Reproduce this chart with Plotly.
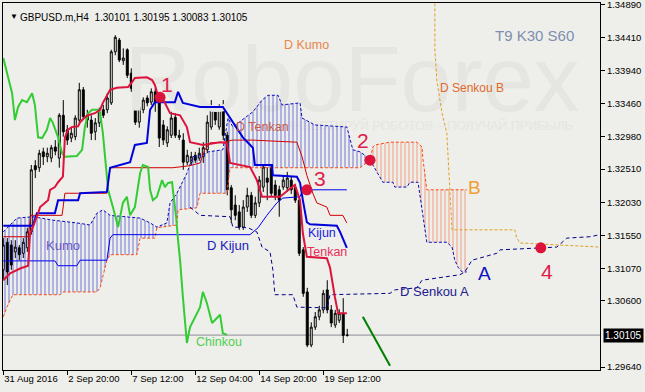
import plotly.graph_objects as go

# ---------------- data ----------------
tick_idx = [0, 16, 32, 48, 64, 80]
tick_text = ["31 Aug 2016", "2 Sep 20:00", "7 Sep 12:00", "12 Sep 04:00", "14 Sep 20:00", "19 Sep 12:00"]
price_ticks = [1.34890, 1.34410, 1.33940, 1.33460, 1.32980, 1.32510, 1.32030,
               1.31550, 1.31070, 1.30600, 1.29640]

opens = [1.3105, 1.3145, 1.3141, 1.3131, 1.3137, 1.3129, 1.3137, 1.3160, 1.3256, 1.3253,
         1.3276, 1.3269, 1.3267, 1.3283, 1.3267, 1.3329, 1.3308, 1.3296, 1.3298, 1.3322,
         1.3366, 1.3329, 1.3322, 1.3305, 1.3318, 1.3337, 1.3337, 1.3347, 1.3421, 1.3438,
         1.3408, 1.3424, 1.3390, 1.3373, 1.3319, 1.3337, 1.3354, 1.3348, 1.3363, 1.3348,
         1.3315, 1.3289, 1.3300, 1.3326, 1.3297, 1.3293, 1.3261, 1.3261, 1.3271, 1.3267,
         1.3269, 1.3279, 1.3312, 1.3337, 1.3312, 1.3337, 1.3300, 1.3224, 1.3199, 1.3189,
         1.3167, 1.3196, 1.3213, 1.3184, 1.3202, 1.3225, 1.3238, 1.3254, 1.3228, 1.3221,
         1.3225, 1.3224, 1.3235, 1.3224, 1.3206, 1.3134, 1.3073, 1.2996, 1.3022, 1.3037,
         1.3047, 1.3076, 1.3047, 1.3025, 1.3032, 1.3042, 1.30101]
highs = [1.3151, 1.3151, 1.3148, 1.3148, 1.3141, 1.3151, 1.3166, 1.3257, 1.3264, 1.3279,
         1.3282, 1.3282, 1.3286, 1.3293, 1.3332, 1.3351, 1.3315, 1.3311, 1.3329, 1.3376,
         1.3370, 1.3337, 1.3329, 1.3325, 1.3340, 1.3344, 1.3361, 1.3424, 1.3445, 1.3441,
         1.3426, 1.3426, 1.3397, 1.3380, 1.3345, 1.3355, 1.3358, 1.3368, 1.3368, 1.3354,
         1.3322, 1.3313, 1.3334, 1.3332, 1.3308, 1.3303, 1.3279, 1.3276, 1.3276, 1.3282,
         1.3290, 1.3329, 1.3351, 1.3342, 1.3345, 1.3351, 1.3305, 1.3228, 1.3213, 1.3199,
         1.3206, 1.3224, 1.3218, 1.3211, 1.3241, 1.3257, 1.3254, 1.3257, 1.3235, 1.3227,
         1.3241, 1.3247, 1.3241, 1.3229, 1.3212, 1.3138, 1.3079, 1.3029, 1.3044, 1.3053,
         1.3076, 1.3090, 1.3054, 1.3047, 1.3048, 1.3064, 1.30195]
lows = [1.3090, 1.3083, 1.3105, 1.3122, 1.3119, 1.3122, 1.3131, 1.3156, 1.3238, 1.3247,
        1.3257, 1.3261, 1.3261, 1.3271, 1.3253, 1.3298, 1.3286, 1.3290, 1.3293, 1.3315,
        1.3322, 1.3311, 1.3293, 1.3293, 1.3312, 1.3325, 1.3332, 1.3344, 1.3416, 1.3406,
        1.3402, 1.3383, 1.3363, 1.3315, 1.3311, 1.3332, 1.3342, 1.3344, 1.3334, 1.3283,
        1.3286, 1.3283, 1.3296, 1.3296, 1.3293, 1.3250, 1.3257, 1.3257, 1.3260, 1.3263,
        1.3260, 1.3274, 1.3308, 1.3315, 1.3308, 1.3293, 1.3213, 1.3173, 1.3177, 1.3163,
        1.3163, 1.3189, 1.3180, 1.3180, 1.3196, 1.3218, 1.3206, 1.3211, 1.3206, 1.3182,
        1.3221, 1.3218, 1.3215, 1.3202, 1.3125, 1.3066, 1.2993, 1.2993, 1.3018, 1.3032,
        1.3042, 1.3042, 1.3022, 1.3021, 1.3028, 1.2999, 1.30083]
closes = [1.3141, 1.3102, 1.3112, 1.3138, 1.3127, 1.3145, 1.3160, 1.3250, 1.3250, 1.3274,
          1.3269, 1.3274, 1.3282, 1.3277, 1.3329, 1.3305, 1.3293, 1.3303, 1.3325, 1.3366,
          1.3327, 1.3322, 1.3303, 1.3318, 1.3334, 1.3329, 1.3354, 1.3421, 1.3442, 1.3409,
          1.3412, 1.3387, 1.3368, 1.3319, 1.3340, 1.3351, 1.3347, 1.3363, 1.3348, 1.3296,
          1.3293, 1.3308, 1.3325, 1.3300, 1.3300, 1.3261, 1.3271, 1.3269, 1.3264, 1.3274,
          1.3282, 1.3319, 1.3340, 1.3322, 1.3340, 1.3300, 1.3221, 1.3192, 1.3184, 1.3167,
          1.3196, 1.3213, 1.3184, 1.3202, 1.3235, 1.3254, 1.3232, 1.3216, 1.3213, 1.3206,
          1.3235, 1.3238, 1.3221, 1.3206, 1.3129, 1.3071, 1.2996, 1.3022, 1.3037, 1.3047,
          1.3071, 1.3047, 1.3028, 1.3042, 1.3042, 1.3010, 1.30105]

tenkan_x = [0, 1.7, 4.2, 6.2, 6.7, 7.4, 8.7, 9.2, 11.2, 11.7, 12.9, 13.7, 14.9, 15.4, 16.2,
            17.2, 18.7, 19.2, 20.4, 21.2, 22.9, 24.2, 24.9, 26.7, 28.4, 31.2, 32.2, 32.9,
            35.9, 37.2, 37.9, 38.4, 39.2, 39.7, 41.7, 44.2, 45.9, 46.7, 49.9, 54.2, 55.9,
            56.7, 61.7, 63.4, 64.7, 69.2, 72.2, 72.9, 74.2, 74.9, 75.9, 80.9, 81.7, 82.4,
            82.9, 83.4, 83.7, 85.9]
tenkan_y = [1.3090, 1.3100, 1.3107, 1.3111, 1.3158, 1.3167, 1.3187, 1.3196, 1.3206, 1.3221,
            1.3225, 1.3232, 1.3240, 1.3297, 1.3308, 1.3312, 1.3313, 1.3319, 1.3326, 1.3329,
            1.3332, 1.3337, 1.3347, 1.3366, 1.3369, 1.3370, 1.3377, 1.3383, 1.3384, 1.3380,
            1.3373, 1.3363, 1.3358, 1.3355, 1.3332, 1.3329, 1.3312, 1.3290, 1.3286, 1.3290,
            1.3289, 1.3260, 1.3254, 1.3235, 1.3211, 1.3211, 1.3225, 1.3228, 1.3206, 1.3158,
            1.3124, 1.3122, 1.3108, 1.3080, 1.3066, 1.3051, 1.3042, 1.3042]

kijun_x = [0, 7.4, 8.4, 12.9, 13.7, 18.7, 19.2, 25.9, 26.7, 31.7, 32.9, 35.9, 36.7, 37.9,
           42.9, 43.7, 44.9, 49.2, 54.9, 56.7, 59.9, 62.4, 62.9, 67.2, 67.4, 73.4, 74.2,
           74.9, 75.9, 76.7, 83.4, 84.2, 85.4, 85.9]
kijun_y = [1.3169, 1.3169, 1.3187, 1.3187, 1.3206, 1.3206, 1.3216, 1.3218, 1.3253, 1.3261,
           1.3286, 1.3289, 1.3337, 1.3348, 1.3348, 1.3363, 1.3347, 1.3341, 1.3341, 1.3325,
           1.3297, 1.3282, 1.3257, 1.3257, 1.3242, 1.3240, 1.3231, 1.3206, 1.3174, 1.3171,
           1.3169, 1.3160, 1.3144, 1.3137]

chinkou_x = [0, 1.2, 2.2, 2.9, 3.7, 4.7, 5.9, 7.2, 7.9, 8.7, 9.7, 10.9, 11.7, 12.4, 13.7,
             14.7, 15.4, 18.4, 19.7, 20.4, 21.2, 22.2, 23.7, 24.2, 24.9, 25.9, 26.2, 27.4,
             28.7, 29.9, 30.9, 31.7, 32.9, 34.2, 34.9, 36.2, 36.7, 37.4, 38.4, 39.7, 40.4,
             41.2, 42.2, 42.4, 43.2, 43.7, 44.2, 44.9, 45.9, 46.7, 49.2, 49.9, 50.9, 52.2,
             54.2, 54.9, 55.9]
chinkou_y = [1.3412, 1.3383, 1.3361, 1.3322, 1.3341, 1.3351, 1.3348, 1.3361, 1.3344, 1.3297,
             1.3296, 1.3308, 1.3325, 1.3318, 1.3297, 1.3274, 1.3269, 1.3270, 1.3279, 1.3312,
             1.3332, 1.3337, 1.3337, 1.3332, 1.3303, 1.3240, 1.3221, 1.3196, 1.3167, 1.3202,
             1.3211, 1.3184, 1.3196, 1.3245, 1.3257, 1.3254, 1.3221, 1.3206, 1.3211, 1.3235,
             1.3225, 1.3231, 1.3232, 1.3221, 1.3182, 1.3148, 1.3119, 1.3066, 1.2999, 1.3022,
             1.3051, 1.3073, 1.3057, 1.3028, 1.3040, 1.3013, 1.3011]

d_tenkan_x = [0, 6.2, 6.9, 14.7, 15.4, 25.9, 26.7, 42.4, 46.7, 49.2, 50.4, 51.7, 55.4, 57.2,
              62.4, 73.4, 74.7, 75.9, 77.4, 78.4, 80.9, 81.7, 84.9, 85.9]
d_tenkan_y = [1.3153, 1.3153, 1.3184, 1.3184, 1.3216, 1.3216, 1.3253, 1.3253, 1.3256, 1.3260,
              1.3279, 1.3289, 1.3290, 1.3293, 1.3293, 1.3290, 1.3269, 1.3242, 1.3216, 1.3202,
              1.3196, 1.3184, 1.3184, 1.3173]

d_kijun_x = [0, 12.9, 13.7, 18.4, 19.2, 25.9, 26.7, 27.4, 61.7, 63.7, 65.9, 68.4, 69.9, 74.2,
             74.9, 85.9]
d_kijun_y = [1.3118, 1.3118, 1.3111, 1.3111, 1.3119, 1.3119, 1.3151, 1.3156, 1.3156, 1.3166,
             1.3184, 1.3202, 1.3209, 1.3211, 1.3221, 1.3221]

senkou_a_x = [0, 2.4, 3.4, 7.4, 12.4, 18.4, 21.7, 23.4, 24.9, 26.7, 29.9, 34.2, 36.7, 38.4,
              40.9, 41.7, 43.4, 45.9, 47.4, 49.9, 51.2, 54.9, 56.2, 57.4, 62.4, 64.7, 66.2,
              68.7, 69.7, 74.2, 74.7, 76.7, 77.9, 85.9, 86.7, 87.4, 89.2, 90.4, 91.7, 93.4,
              94.2, 94.9, 97.4, 97.9, 100.9, 101.7, 103.7, 104.2, 105.4, 105.9, 110.9,
              112.2, 112.9, 113.7, 114.7, 115.9]
senkou_a_y = [1.3160, 1.3174, 1.3180, 1.3182, 1.3177, 1.3173, 1.3170, 1.3187, 1.3192, 1.3184,
              1.3182, 1.3180, 1.3173, 1.3167, 1.3173, 1.3202, 1.3216, 1.3245, 1.3269, 1.3271,
              1.3276, 1.3279, 1.3325, 1.3312, 1.3334, 1.3351, 1.3358, 1.3358, 1.3344, 1.3347,
              1.3325, 1.3318, 1.3315, 1.3312, 1.3293, 1.3279, 1.3276, 1.3271, 1.3264, 1.3247,
              1.3238, 1.3232, 1.3232, 1.3225, 1.3225, 1.3232, 1.3232, 1.3211, 1.3167, 1.3145,
              1.3145, 1.3138, 1.3119, 1.3109, 1.3102, 1.3102]

senkou_b_x = [0, 0.9, 2.4, 14.2, 14.9, 23.4, 24.2, 25.4, 25.9, 26.7, 33.4, 34.2, 37.9, 38.4,
              43.4, 43.7, 48.4, 49.2, 55.9, 56.7, 89.2, 91.7, 92.4, 92.9, 96.7, 103.4,
              104.7, 104.9, 105.9, 115.9]
senkou_b_y = [1.3037, 1.3051, 1.3069, 1.3069, 1.3073, 1.3073, 1.3079, 1.3105, 1.3119, 1.3127,
              1.3127, 1.3151, 1.3151, 1.3166, 1.3170, 1.3192, 1.3195, 1.3216, 1.3216, 1.3253,
              1.3253, 1.3264, 1.3283, 1.3286, 1.3290, 1.3290, 1.3283, 1.3267, 1.3221, 1.3221]
kumo_cross_x = 91.7

d_senkou_a_x = [46.7, 49.2, 56.7, 57.4, 61.2, 63.4, 64.7, 66.7, 67.4, 67.9, 72.4, 73.4, 80.9,
                81.7, 96.7, 97.9, 103.4, 104.7, 114.2, 115.4, 117.2, 123.4, 124.2, 134.2,
                138.4, 140.9, 146.7, 149.2]
d_senkou_a_y = [1.3196, 1.3184, 1.3182, 1.3167, 1.3166, 1.3160, 1.3138, 1.3131, 1.3105, 1.3069,
                1.3069, 1.3051, 1.3050, 1.3069, 1.3071, 1.3076, 1.3079, 1.3090, 1.3098, 1.3102,
                1.3119, 1.3129, 1.3134, 1.3137, 1.3138, 1.3151, 1.3153, 1.3156]

d_senkou_b_x = [107.9, 107.9, 108.4, 109.2, 109.7, 110.9, 111.7, 112.2, 127.9, 128.4, 129.2, 149.2]
d_senkou_b_y = [1.3520, 1.3426, 1.3380, 1.3351, 1.3332, 1.3303, 1.3206, 1.3163, 1.3163, 1.3151,
                1.3144, 1.3138]

trend_x = [89.9, 96.7]
trend_y = [1.3037, 1.2966]

signal_x = [39.2, 91.7, 75.9, 134.4]
signal_y = [1.3355, 1.3264, 1.3221, 1.3137]
signal_lbl = ["1", "2", "3", "4"]
signal_lbl_x = [40.9, 89.9, 79.2, 135.9]
signal_lbl_y = [1.3374, 1.3292, 1.3238, 1.3102]

# text labels: (text, bar index, price, colour, size)
text_labels = [
    ("D Kumo", 75.9, 1.3431, "#E8874A", 12.5),
    ("D Senkou B", 117.2, 1.3368, "#E06A2A", 12),
    ("T9 K30 S60", 132.7, 1.3444, "#7F8FAF", 15),
    ("D Tenkan", 64.9, 1.3312, "#C85A4A", 12.5),
    ("Kijun", 79.7, 1.3158, "#2020E0", 12.5),
    ("Tenkan", 80.9, 1.3131, "#E8305A", 12.5),
    ("D Kijun", 56.2, 1.3140, "#2020C0", 13),
    ("Kumo", 14.9, 1.3140, "#6A5AC8", 13),
    ("D Senkou A", 107.9, 1.3073, "#202090", 13),
    ("Chinkou", 53.9, 1.3000, "#50D050", 12.5),
    ("A", 120.2, 1.3100, "#1010C0", 19),
    ("B", 117.9, 1.3224, "#F0A030", 19),
]

symbol_title = "GBPUSD.m,H4\u00a0\u00a01.30101 1.30195 1.30083 1.30105"

# ---------------- style ----------------
BG = "#EEEEEA"
FONT = "Liberation Sans"
Y_MIN, Y_MAX = 1.29599, 1.34917
X_MIN, X_MAX = -0.075, 149.2

fig = go.Figure()

# watermark (under everything)
fig.add_trace(go.Scatter(x=[87.2], y=[1.3368], mode="text", text=["RoboForex"],
                         textfont=dict(family=FONT, size=92, color="#E5E5E1"),
                         hoverinfo="skip", showlegend=False))
fig.add_trace(go.Scatter(x=[142.4], y=[1.3312], mode="text",
                         text=["ИНВЕСТИРУЙ РОБОТОВ – ПОЛУЧАЙ ПРИБЫЛЬ"],
                         textposition="middle left",
                         textfont=dict(family=FONT, size=12.5, color="#E5E5E1"),
                         hoverinfo="skip", showlegend=False))

# kumo hatch
ka = senkou_a_x.index(kumo_cross_x)
kb = senkou_b_x.index(kumo_cross_x)
hatch = [
    (senkou_b_x[:kb + 1], senkou_b_y[:kb + 1], senkou_a_x[:ka + 1], senkou_a_y[:ka + 1], "#1C28C8"),
    (senkou_b_x[kb:], senkou_b_y[kb:], senkou_a_x[ka:], senkou_a_y[ka:], "#F26A3A"),
]
for bx, by, ax, ay, col in hatch:
    fig.add_trace(go.Scatter(x=bx, y=by, mode="lines", line=dict(width=0, color=col),
                             hoverinfo="skip", showlegend=False))
    fig.add_trace(go.Scatter(x=ax, y=ay, mode="lines", line=dict(width=0, color=col),
                             fill="tonexty", fillcolor="rgba(0,0,0,0)",
                             fillpattern=dict(shape="|", size=4, solidity=0.25, fgcolor=col,
                                              bgcolor="rgba(0,0,0,0)", fgopacity=0.6),
                             hoverinfo="skip", showlegend=False))


def line(x, y, color, width=1, dash=None):
    fig.add_trace(go.Scatter(x=x, y=y, mode="lines",
                             line=dict(color=color, width=width, dash=dash),
                             hoverinfo="skip", showlegend=False))


line(senkou_a_x, senkou_a_y, "#0A0AC0", 1, "3px,2px")
line(senkou_b_x, senkou_b_y, "#FF4A10", 1, "3px,2px")
line(d_senkou_a_x, d_senkou_a_y, "#00008B", 1, "4px,3px")
line(d_senkou_b_x, d_senkou_b_y, "#E0A020", 1, "3px,2px")
line(d_kijun_x, d_kijun_y, "#0000F0", 1)
line(d_tenkan_x, d_tenkan_y, "#D00000", 1)

fig.add_trace(go.Candlestick(
    x=list(range(len(opens))), open=opens, high=highs, low=lows, close=closes,
    increasing=dict(line=dict(color="black", width=1), fillcolor=BG),
    decreasing=dict(line=dict(color="black", width=1), fillcolor="black"),
    whiskerwidth=0, showlegend=False, hoverinfo="skip"))

line(chinkou_x, chinkou_y, "#32CD32", 2)
line(kijun_x, kijun_y, "#0000DD", 2)
line(tenkan_x, tenkan_y, "#DC143C", 2)
line(trend_x, trend_y, "#008000", 2)

fig.add_trace(go.Scatter(x=signal_x, y=signal_y, mode="markers",
                         marker=dict(size=11, color="#DC143C"),
                         hoverinfo="skip", showlegend=False))

annotations = []
for t, lx, ly in zip(signal_lbl, signal_lbl_x, signal_lbl_y):
    annotations.append(dict(x=lx, y=ly, xref="x", yref="y", text=t, showarrow=False,
                            font=dict(family=FONT, size=21, color="#E0204A")))
for t, lx, ly, c, s in text_labels:
    annotations.append(dict(x=lx, y=ly, xref="x", yref="y", text=t, showarrow=False,
                            font=dict(family=FONT, size=s, color=c)))
annotations.append(dict(x=0.0084, y=0.981, xref="paper", yref="paper", text="▼",
                        showarrow=False, font=dict(family=FONT, size=8, color="black")))
annotations.append(dict(x=0.025, y=0.981, xref="paper", yref="paper", text=symbol_title,
                        xanchor="left", showarrow=False,
                        font=dict(family=FONT, size=10, color="black")))
annotations.append(dict(x=1, y=closes[-1], xref="paper", yref="y", text=f"{closes[-1]:.5f}",
                        xanchor="left", xshift=3, showarrow=False, bgcolor="black",
                        borderpad=1, font=dict(family=FONT, size=10, color="white")))

fig.add_shape(type="line", xref="paper", x0=0, x1=1, yref="y", y0=closes[-1], y1=closes[-1],
              line=dict(color="#8C8C96", width=1), layer="below")

fig.update_layout(
    width=645, height=392,
    margin=dict(l=3, r=45, t=3, b=22, autoexpand=False),
    paper_bgcolor=BG, plot_bgcolor=BG,
    showlegend=False,
    annotations=annotations,
    xaxis=dict(range=[X_MIN, X_MAX], tickvals=tick_idx, ticktext=tick_text,
               ticks="outside", ticklen=4, tickcolor="black", tickangle=0,
               ticklabelposition="outside right", automargin=False,
               showline=True, linecolor="black", linewidth=1, mirror=True,
               showgrid=False, zeroline=False, rangeslider=dict(visible=False),
               tickfont=dict(family=FONT, size=9.5, color="black")),
    yaxis=dict(range=[Y_MIN, Y_MAX], side="right", tickvals=price_ticks,
               ticktext=[f"{v:.5f}" for v in price_ticks], automargin=False,
               ticklabeloverflow="allow",
               ticks="outside", ticklen=4, tickcolor="black",
               showline=True, linecolor="black", linewidth=1, mirror=True,
               showgrid=False, zeroline=False,
               tickfont=dict(family=FONT, size=9.5, color="black")),
)

fig.write_html("out.html")
